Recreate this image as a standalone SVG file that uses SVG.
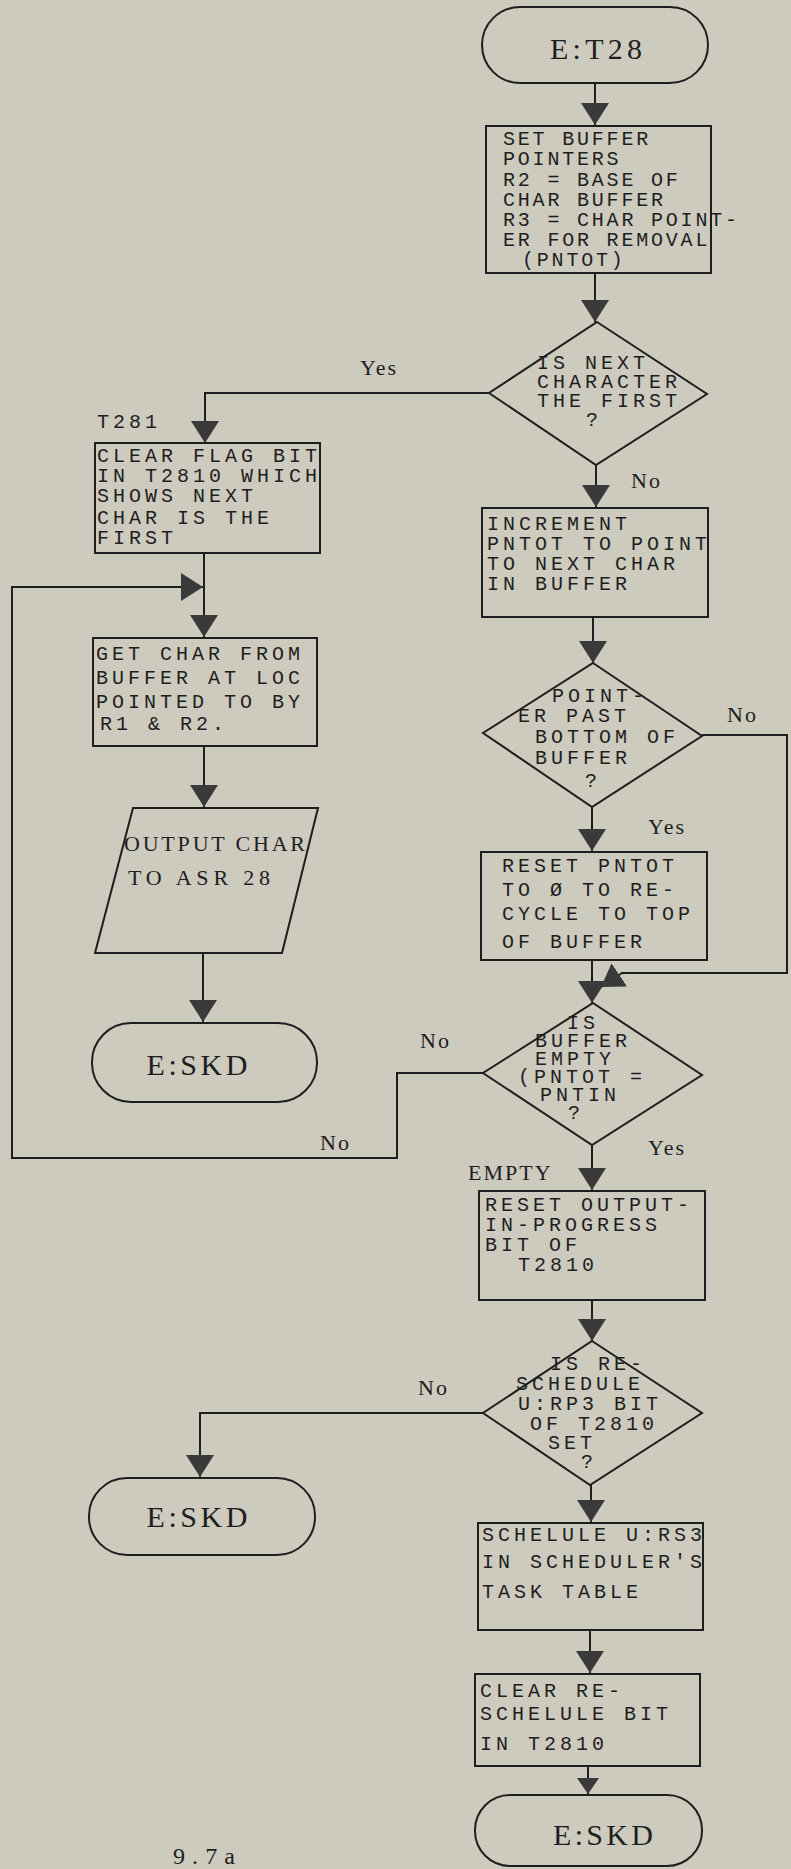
<svg xmlns="http://www.w3.org/2000/svg" width="791" height="1869" viewBox="0 0 791 1869">
<style>
.bg{fill:#cdcabe}
.shape{fill:none;stroke:#1e1e1e;stroke-width:2}
.conn{fill:none;stroke:#1e1e1e;stroke-width:2}
.mono{font-family:"Liberation Mono","DejaVu Sans Mono",monospace;font-size:20px;letter-spacing:4px;fill:#1e1e1e}
.tight{letter-spacing:2.8px}
.serif{font-family:"Liberation Serif","DejaVu Serif",serif;fill:#1e1e1e}
.lbl{font-family:"Liberation Serif","DejaVu Serif",serif;font-size:22px;letter-spacing:2px;fill:#1e1e1e}
.term{font-family:"Liberation Serif","DejaVu Serif",serif;font-size:30px;fill:#1e1e1e;text-anchor:middle}
</style>
<defs>
<marker id="arr" viewBox="0 0 22 28" refX="22" refY="14" markerWidth="22" markerHeight="28" markerUnits="userSpaceOnUse" orient="auto">
<path d="M0,0 L22,14 L0,28 z" fill="#3a3a3a"/>
</marker>
<marker id="arrs" viewBox="0 0 16 22" refX="16" refY="11" markerWidth="16" markerHeight="22" markerUnits="userSpaceOnUse" orient="auto">
<path d="M0,0 L16,11 L0,22 z" fill="#3a3a3a"/>
</marker>
</defs>
<rect class="bg" x="0" y="0" width="791" height="1869"/>

<g id="connectors">
<path class="conn" d="M595,83 V125" marker-end="url(#arr)"/>
<path class="conn" d="M595,273 V322" marker-end="url(#arr)"/>
<path class="conn" d="M489,393 H205 V443" marker-end="url(#arr)"/>
<path class="conn" d="M596,465 V507" marker-end="url(#arr)"/>
<path class="conn" d="M204,553 V637" marker-end="url(#arr)"/>
<path class="conn" d="M204,746 V807" marker-end="url(#arr)"/>
<path class="conn" d="M203,953 V1022" marker-end="url(#arr)"/>
<path class="conn" d="M593,617 V663" marker-end="url(#arr)"/>
<path class="conn" d="M592,807 V851" marker-end="url(#arr)"/>
<path class="conn" d="M592,960 V1003" marker-end="url(#arr)"/>
<path class="conn" d="M702,735 H787 V973 H622 L601,987" marker-end="url(#arr)"/>
<path class="conn" d="M483,1073 H397 V1158 H12 V587 H203" marker-end="url(#arr)"/>
<path class="conn" d="M592,1145 V1190" marker-end="url(#arr)"/>
<path class="conn" d="M592,1300 V1341" marker-end="url(#arr)"/>
<path class="conn" d="M483,1413 H200 V1477" marker-end="url(#arr)"/>
<path class="conn" d="M591,1485 V1522" marker-end="url(#arr)"/>
<path class="conn" d="M590,1630 V1673" marker-end="url(#arr)"/>
<path class="conn" d="M588,1766 V1794" marker-end="url(#arrs)"/>
<text class="lbl" x="360" y="375">Yes</text>
<text class="lbl" x="631" y="488">No</text>
<text class="lbl" x="727" y="722">No</text>
<text class="lbl" x="648" y="834">Yes</text>
<text class="lbl" x="420" y="1048">No</text>
<text class="lbl" x="320" y="1150">No</text>
<text class="lbl" x="648" y="1155">Yes</text>
<text class="lbl" x="418" y="1395">No</text>
</g>

<g id="start">
<rect class="shape" x="482" y="7" width="226" height="76" rx="38"/>
<text class="term" x="596" y="59" textLength="92">E:T28</text>
</g>

<g id="set-pointers">
<rect class="shape" x="486" y="126" width="225" height="147"/>
<text class="mono tight" x="503" y="145">SET BUFFER</text>
<text class="mono tight" x="503" y="165">POINTERS</text>
<text class="mono tight" x="503" y="186">R2 = BASE OF</text>
<text class="mono tight" x="503" y="206">CHAR BUFFER</text>
<text class="mono tight" x="503" y="226">R3 = CHAR POINT-</text>
<text class="mono tight" x="503" y="246">ER FOR REMOVAL</text>
<text class="mono tight" x="522" y="266">(PNTOT)</text>
</g>

<g id="is-first">
<polygon class="shape" points="597,322 707,394 596,465 489,393"/>
<text class="mono" x="537" y="369">IS NEXT</text>
<text class="mono" x="537" y="388">CHARACTER</text>
<text class="mono" x="537" y="407">THE FIRST</text>
<text class="mono" x="586" y="426">?</text>
</g>

<g id="t281">
<text class="mono" x="97" y="428">T281</text>
<rect class="shape" x="95" y="443" width="225" height="110"/>
<text class="mono" x="97" y="462">CLEAR FLAG BIT</text>
<text class="mono" x="97" y="482">IN T2810 WHICH</text>
<text class="mono" x="97" y="502">SHOWS NEXT</text>
<text class="mono" x="97" y="524">CHAR IS THE</text>
<text class="mono" x="97" y="544">FIRST</text>
</g>

<g id="get-char">
<rect class="shape" x="93" y="638" width="224" height="108"/>
<text class="mono" x="96" y="660">GET CHAR FROM</text>
<text class="mono" x="96" y="684">BUFFER AT LOC</text>
<text class="mono" x="96" y="708">POINTED TO BY</text>
<text class="mono" x="100" y="730">R1 &amp; R2.</text>
</g>

<g id="output-char">
<polygon class="shape" points="133,808 318,808 282,953 95,953"/>
<text class="serif" x="124" y="851" font-size="22" textLength="181">OUTPUT CHAR</text>
<text class="serif" x="128" y="885" font-size="22" textLength="142">TO ASR 28</text>
</g>

<g id="skd-1">
<rect class="shape" x="92" y="1023" width="225" height="79" rx="39"/>
<text class="term" x="197" y="1075" textLength="101">E:SKD</text>
</g>

<g id="increment">
<rect class="shape" x="482" y="508" width="226" height="109"/>
<text class="mono" x="487" y="530">INCREMENT</text>
<text class="mono" x="487" y="550">PNTOT TO POINT</text>
<text class="mono" x="487" y="570">TO NEXT CHAR</text>
<text class="mono" x="487" y="590">IN BUFFER</text>
</g>

<g id="past-bottom">
<polygon class="shape" points="593,663 702,736 592,807 483,733"/>
<text class="mono" x="552" y="702">POINT-</text>
<text class="mono" x="518" y="722">ER PAST</text>
<text class="mono" x="535" y="743">BOTTOM OF</text>
<text class="mono" x="535" y="764">BUFFER</text>
<text class="mono" x="585" y="787">?</text>
</g>

<g id="reset-pntot">
<rect class="shape" x="481" y="852" width="226" height="108"/>
<text class="mono" x="502" y="872">RESET PNTOT</text>
<text class="mono" x="502" y="896">TO Ø TO RE-</text>
<text class="mono" x="502" y="920">CYCLE TO TOP</text>
<text class="mono" x="502" y="948">OF BUFFER</text>
</g>

<g id="is-empty">
<polygon class="shape" points="593,1003 702,1075 592,1145 483,1073"/>
<text class="mono" x="567" y="1029">IS</text>
<text class="mono" x="535" y="1047">BUFFER</text>
<text class="mono" x="535" y="1065">EMPTY</text>
<text class="mono" x="518" y="1083">(PNTOT =</text>
<text class="mono" x="540" y="1101">PNTIN</text>
<text class="mono" x="568" y="1119">?</text>
</g>

<g id="reset-output">
<text class="lbl" x="468" y="1180" letter-spacing="1">EMPTY</text>
<rect class="shape" x="479" y="1191" width="226" height="109"/>
<text class="mono" x="485" y="1211">RESET OUTPUT-</text>
<text class="mono" x="485" y="1231">IN-PROGRESS</text>
<text class="mono" x="485" y="1251">BIT OF</text>
<text class="mono" x="518" y="1271">T2810</text>
</g>

<g id="is-reschedule">
<polygon class="shape" points="592,1341 702,1413 590,1485 483,1413"/>
<text class="mono" x="550" y="1370">IS RE-</text>
<text class="mono" x="516" y="1390">SCHEDULE</text>
<text class="mono" x="518" y="1410">U:RP3 BIT</text>
<text class="mono" x="530" y="1430">OF T2810</text>
<text class="mono" x="548" y="1449">SET</text>
<text class="mono" x="581" y="1468">?</text>
</g>

<g id="skd-2">
<rect class="shape" x="89" y="1478" width="226" height="77" rx="38"/>
<text class="term" x="197" y="1527" textLength="101">E:SKD</text>
</g>

<g id="schedule">
<rect class="shape" x="478" y="1523" width="225" height="107"/>
<text class="mono" x="482" y="1541">SCHELULE U:RS3</text>
<text class="mono" x="482" y="1568">IN SCHEDULER'S</text>
<text class="mono" x="482" y="1598">TASK TABLE</text>
</g>

<g id="clear-reschedule">
<rect class="shape" x="475" y="1674" width="225" height="92"/>
<text class="mono" x="480" y="1697">CLEAR RE-</text>
<text class="mono" x="480" y="1720">SCHELULE BIT</text>
<text class="mono" x="480" y="1750">IN T2810</text>
</g>

<g id="skd-3">
<rect class="shape" x="475" y="1795" width="227" height="71" rx="35"/>
<text class="term" x="603" y="1845" textLength="100">E:SKD</text>
</g>

<text class="serif" x="173" y="1864" font-size="24" textLength="62">9.7a</text>
</svg>
